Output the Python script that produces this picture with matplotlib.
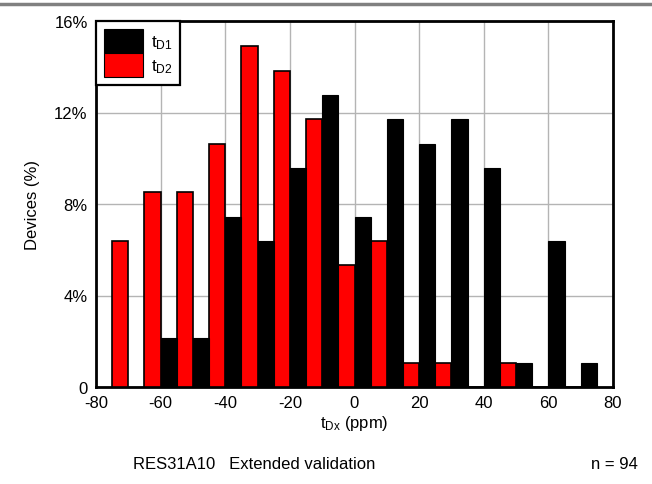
import matplotlib
matplotlib.use("Agg")
import matplotlib.pyplot as plt
from matplotlib.lines import Line2D
from matplotlib.patches import Patch
import numpy as np

plt.rcParams['font.family'] = ['Liberation Sans', 'DejaVu Sans']
plt.rcParams['mathtext.fontset'] = 'custom'
plt.rcParams['mathtext.rm'] = 'Liberation Sans'

n_devices = 94
bin_centers = [-70, -60, -50, -40, -30, -20, -10, 0, 10, 20, 30, 40, 50, 60, 70]
counts_td1 = [0, 2, 2, 7, 6, 9, 12, 7, 11, 10, 11, 9, 1, 6, 1]
counts_td2 = [6, 8, 8, 10, 14, 13, 11, 5, 6, 1, 1, 0, 1, 0, 0]
label_td1 = r'$\mathregular{t_{D1}}$'
label_td2 = r'$\mathregular{t_{D2}}$'
x_ticks = [-80, -60, -40, -20, 0, 20, 40, 60, 80]
y_ticks = [0, 4, 8, 12, 16]
y_ticklabels = ['0', '4%', '8%', '12%', '16%']

pct_td1 = np.array(counts_td1) / n_devices * 100
pct_td2 = np.array(counts_td2) / n_devices * 100
centers = np.array(bin_centers)

fig = plt.figure(figsize=(6.52, 4.85), dpi=100)
ax = fig.add_axes([96/652, 1-388/485, (613-96)/652, (388-22)/485])

ax.bar(centers - 5, pct_td2, width=5, align='edge', color='#ff0000',
       edgecolor='black', linewidth=1.2, zorder=3)
ax.bar(centers, pct_td1, width=5, align='edge', color='black',
       edgecolor='black', linewidth=0.8, zorder=3)

ax.set_xlim(-80, 80)
ax.set_ylim(0, 16)
ax.set_xticks(x_ticks)
ax.set_xticklabels([str(v) for v in x_ticks])
ax.set_yticks(y_ticks)
ax.set_yticklabels(y_ticklabels)
ax.tick_params(length=0, labelsize=12, pad=6, colors='black')
ax.grid(True, color='#b4b4b4', linewidth=1, zorder=0)
ax.set_axisbelow(True)
for s in ax.spines.values():
    s.set_linewidth(2)
    s.set_color('black')

ax.set_ylabel('Devices (%)', fontsize=12, labelpad=10)
ax.set_xlabel(r'$\mathregular{t_{Dx}}$ (ppm)', fontsize=12, labelpad=2)

handles = [Patch(facecolor='black', edgecolor='black', linewidth=0.8),
           Patch(facecolor='#ff0000', edgecolor='black', linewidth=0.8)]
leg = ax.legend(handles, [label_td1, label_td2], loc='upper left',
                fontsize=12.5, frameon=True, fancybox=False, borderaxespad=0,
                handlelength=2.25, handleheight=1.75, labelspacing=0.0,
                handletextpad=0.45, borderpad=0.45)
leg.get_frame().set_edgecolor('black')
leg.get_frame().set_linewidth(1.6)
leg.get_frame().set_alpha(1)
leg.set_zorder(5)

fig.text(133/652, 1-465/485, 'RES31A10   Extended validation', fontsize=12,
         ha='left', va='center')
fig.text(638/652, 1-465/485, 'n = 94', fontsize=12, ha='right', va='center')

fig.add_artist(Line2D([0, 1], [1-5/485, 1-5/485], color='#808080', linewidth=2.5,
                      transform=fig.transFigure))

fig.savefig('out.png', dpi=100)
